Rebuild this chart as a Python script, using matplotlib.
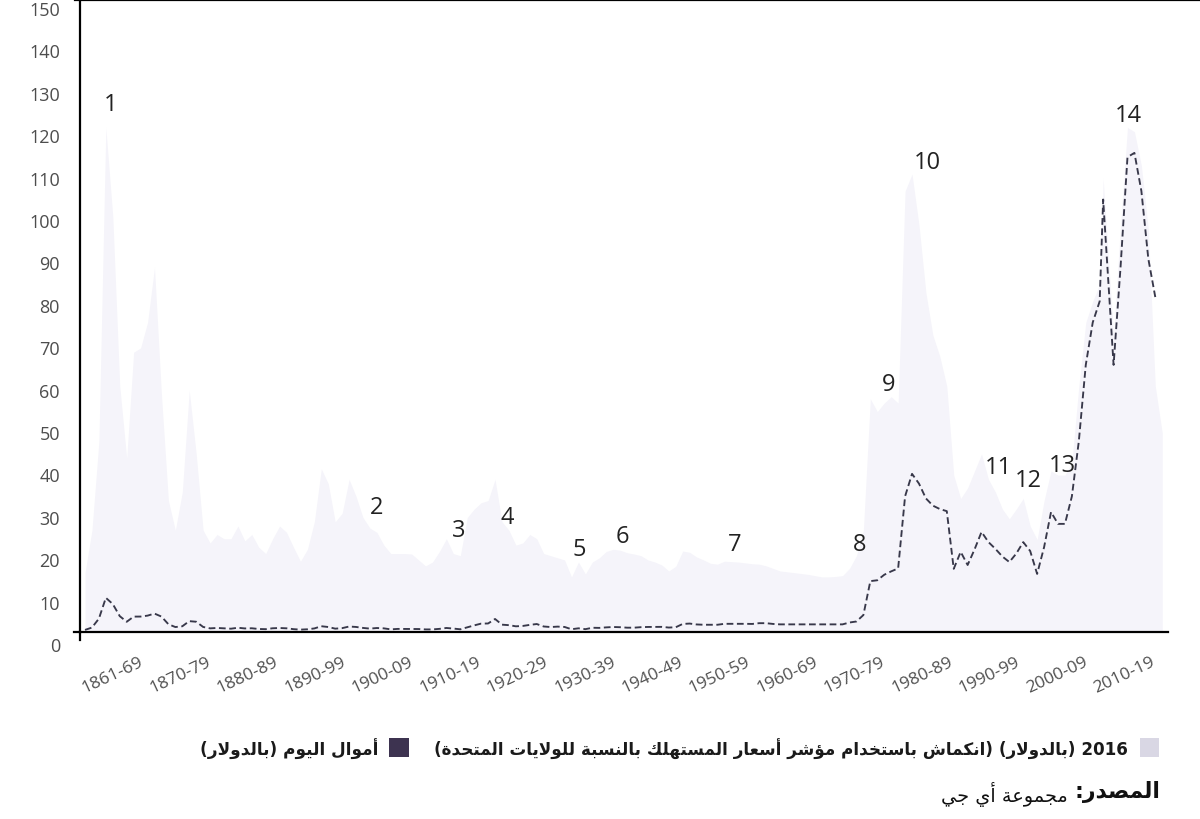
import re
import matplotlib
matplotlib.use("Agg")
import matplotlib.pyplot as plt
from matplotlib.lines import Line2D
from matplotlib.patches import Rectangle
from matplotlib.transforms import ScaledTranslation, blended_transform_factory

# ---------------- data ----------------
# inflation adjusted price (2016 dollars)
real_years = list(range(1861, 2008)) + [2007.5, 2009, 2010, 2011, 2012, 2013, 2014, 2015, 2016]
real_values = [
    14, 24, 45, 119, 98, 58, 41, 66, 67, 73,            # 1861-1870
    86, 56, 31, 24, 33, 57, 42, 24, 21, 23,             # 1871-1880
    22, 22, 25, 21.5, 23, 20, 18.5, 22, 25, 23.5,       # 1881-1890
    20, 16.7, 19.5, 26, 38.5, 35, 26, 28, 36, 32,       # 1891-1900
    27, 24.5, 23.5, 20.5, 18.5, 18.5, 18.5, 18.4, 17, 15.6,  # 1901-1910
    16.5, 19, 22, 18.5, 18, 27, 29, 30.5, 31, 36,       # 1911-1920
    26, 24, 20.5, 21, 23, 22, 18.5, 18, 17.5, 17,       # 1921-1930
    13, 16.5, 13.7, 16.5, 17.5, 19, 19.5, 19.3, 18.7, 18.4,  # 1931-1940
    18, 17, 16.5, 15.8, 14.4, 15.5, 19.1, 18.8, 17.7, 17,    # 1941-1950
    16.2, 16, 16.7, 16.6, 16.5, 16.3, 16.1, 16, 15.6, 15,    # 1951-1960
    14.4, 14.2, 14, 13.8, 13.6, 13.3, 13, 13, 13.1, 13.3,    # 1961-1970
    15, 18, 24, 55, 52, 54, 55.5, 54, 104, 108,         # 1971-1980
    96, 80, 70, 65, 58, 37, 31.5, 34, 38, 42,           # 1981-1990
    36, 33, 29, 26.7, 29, 31.5, 25, 21.8, 31, 38,       # 1991-2000
    37, 37, 40, 58, 73, 78, 82,                         # 2001-2007
    107, 70, 96, 119, 118, 110, 95, 58, 47,             # 2007.5-2016
]

# money of the day (nominal dollars)
nominal_years = list(range(1861, 2008)) + [2007.5, 2009, 2010, 2011, 2012, 2013, 2014, 2015]
nominal_values = [
    0.49, 1.05, 3.15, 8.06, 6.59, 3.74, 2.41, 3.63, 3.64, 3.86,   # 1861-1870
    4.34, 3.64, 1.83, 1.17, 1.35, 2.56, 2.42, 1.19, 0.86, 0.95,   # 1871-1880
    0.86, 0.78, 1.00, 0.84, 0.88, 0.71, 0.67, 0.88, 0.94, 0.87,   # 1881-1890
    0.67, 0.56, 0.64, 0.84, 1.36, 1.18, 0.79, 0.91, 1.29, 1.19,   # 1891-1900
    0.96, 0.80, 0.94, 0.86, 0.62, 0.73, 0.72, 0.72, 0.70, 0.61,   # 1901-1910
    0.61, 0.74, 0.95, 0.81, 0.64, 1.10, 1.56, 1.98, 2.01, 3.07,   # 1911-1920
    1.73, 1.61, 1.34, 1.43, 1.68, 1.88, 1.30, 1.17, 1.27, 1.19,   # 1921-1930
    0.65, 0.87, 0.67, 1.00, 0.97, 1.09, 1.18, 1.13, 1.02, 1.02,   # 1931-1940
    1.14, 1.19, 1.20, 1.21, 1.05, 1.12, 1.90, 1.99, 1.78, 1.71,   # 1941-1950
    1.71, 1.71, 1.93, 1.93, 1.93, 1.93, 1.90, 2.08, 2.08, 1.90,   # 1951-1960
    1.80, 1.80, 1.80, 1.80, 1.80, 1.80, 1.80, 1.80, 1.80, 1.80,   # 1961-1970
    2.24, 2.48, 4.0, 12.0, 12.2, 13.5, 14.3, 15.0, 32.0, 37.3,    # 1971-1980
    35.0, 31.5, 29.8, 29.0, 28.5, 14.9, 18.9, 15.8, 19.5, 23.6,   # 1981-1990
    21.2, 19.6, 17.8, 16.5, 18.5, 21.2, 19.1, 13.7, 20.0, 28.3,   # 1991-2000
    25.5, 25.5, 32.0, 45.0, 63.0, 73.0, 78.0,                     # 2001-2007
    102.0, 63.0, 86.0, 112.0, 113.0, 104.0, 88.0, 79.0,           # 2007.5-2015
]

y_ticks = list(range(0, 151, 10))
decade_labels = ["1861-69", "1870-79", "1880-89", "1890-99", "1900-09", "1910-19",
                 "1920-29", "1930-39", "1940-49", "1950-59", "1960-69", "1970-79",
                 "1980-89", "1990-99", "2000-09", "2010-19"]

event_labels = [str(i) for i in range(1, 15)]
event_x = [1864.7, 1902.9, 1914.7, 1921.7, 1932.1, 1938.3, 1954.5, 1972.4,
           1976.7, 1982.2, 1992.5, 1996.7, 2001.6, 2011.2]
event_y = [124.5, 29.5, 24.0, 27.1, 19.6, 22.6, 20.8, 20.8,
           58.5, 110.8, 38.9, 35.8, 39.4, 121.9]

legend_real = "2016 (بالدولار) (انكماش باستخدام مؤشر أسعار المستهلك بالنسبة للولايات المتحدة)"
legend_nominal = "أموال اليوم (بالدولار)"
source_label = "المصدر:"
source_name = "مجموعة أي جي"

# ---------------- Arabic shaping helper ----------------
FORMS = {
    '\u0621': ('\uFE80', None, None, None),
    '\u0622': ('\uFE81', '\uFE82', None, None),
    '\u0623': ('\uFE83', '\uFE84', None, None),
    '\u0624': ('\uFE85', '\uFE86', None, None),
    '\u0625': ('\uFE87', '\uFE88', None, None),
    '\u0626': ('\uFE89', '\uFE8A', '\uFE8B', '\uFE8C'),
    '\u0627': ('\uFE8D', '\uFE8E', None, None),
    '\u0628': ('\uFE8F', '\uFE90', '\uFE91', '\uFE92'),
    '\u0629': ('\uFE93', '\uFE94', None, None),
    '\u062A': ('\uFE95', '\uFE96', '\uFE97', '\uFE98'),
    '\u062B': ('\uFE99', '\uFE9A', '\uFE9B', '\uFE9C'),
    '\u062C': ('\uFE9D', '\uFE9E', '\uFE9F', '\uFEA0'),
    '\u062D': ('\uFEA1', '\uFEA2', '\uFEA3', '\uFEA4'),
    '\u062E': ('\uFEA5', '\uFEA6', '\uFEA7', '\uFEA8'),
    '\u062F': ('\uFEA9', '\uFEAA', None, None),
    '\u0630': ('\uFEAB', '\uFEAC', None, None),
    '\u0631': ('\uFEAD', '\uFEAE', None, None),
    '\u0632': ('\uFEAF', '\uFEB0', None, None),
    '\u0633': ('\uFEB1', '\uFEB2', '\uFEB3', '\uFEB4'),
    '\u0634': ('\uFEB5', '\uFEB6', '\uFEB7', '\uFEB8'),
    '\u0635': ('\uFEB9', '\uFEBA', '\uFEBB', '\uFEBC'),
    '\u0636': ('\uFEBD', '\uFEBE', '\uFEBF', '\uFEC0'),
    '\u0637': ('\uFEC1', '\uFEC2', '\uFEC3', '\uFEC4'),
    '\u0638': ('\uFEC5', '\uFEC6', '\uFEC7', '\uFEC8'),
    '\u0639': ('\uFEC9', '\uFECA', '\uFECB', '\uFECC'),
    '\u063A': ('\uFECD', '\uFECE', '\uFECF', '\uFED0'),
    '\u0641': ('\uFED1', '\uFED2', '\uFED3', '\uFED4'),
    '\u0642': ('\uFED5', '\uFED6', '\uFED7', '\uFED8'),
    '\u0643': ('\uFED9', '\uFEDA', '\uFEDB', '\uFEDC'),
    '\u0644': ('\uFEDD', '\uFEDE', '\uFEDF', '\uFEE0'),
    '\u0645': ('\uFEE1', '\uFEE2', '\uFEE3', '\uFEE4'),
    '\u0646': ('\uFEE5', '\uFEE6', '\uFEE7', '\uFEE8'),
    '\u0647': ('\uFEE9', '\uFEEA', '\uFEEB', '\uFEEC'),
    '\u0648': ('\uFEED', '\uFEEE', None, None),
    '\u0649': ('\uFEEF', '\uFEF0', None, None),
    '\u064A': ('\uFEF1', '\uFEF2', '\uFEF3', '\uFEF4'),
    '\u0640': ('\u0640', '\u0640', '\u0640', '\u0640'),
}
LAM_ALEF = {'\u0622': ('\uFEF5', '\uFEF6'), '\u0623': ('\uFEF7', '\uFEF8'),
            '\u0625': ('\uFEF9', '\uFEFA'), '\u0627': ('\uFEFB', '\uFEFC')}


def shape_arabic(s):
    toks = []
    i = 0
    while i < len(s):
        c = s[i]
        if c == '\u0644' and i + 1 < len(s) and s[i + 1] in LAM_ALEF:
            toks.append(('LA', s[i + 1]))
            i += 2
        else:
            toks.append(('C', c))
            i += 1

    def joins_next(t):
        if t is None or t[0] == 'LA':
            return False
        f = FORMS.get(t[1])
        return f is not None and f[2] is not None

    def joins_prev(t):
        if t is None:
            return False
        if t[0] == 'LA':
            return True
        f = FORMS.get(t[1])
        return f is not None and f[1] is not None

    out = []
    for k, t in enumerate(toks):
        prev = toks[k - 1] if k > 0 else None
        nxt = toks[k + 1] if k + 1 < len(toks) else None
        pj = joins_prev(t) and joins_next(prev)
        nj = joins_next(t) and joins_prev(nxt)
        if t[0] == 'LA':
            out.append(LAM_ALEF[t[1]][1 if pj else 0])
        elif t[1] in FORMS:
            f = FORMS[t[1]]
            if pj and nj:
                out.append(f[3])
            elif pj:
                out.append(f[1])
            elif nj:
                out.append(f[2])
            else:
                out.append(f[0])
        else:
            out.append(t[1])
    shaped = ''.join(out)
    runs = re.findall(r'[0-9]+|[^0-9]+', shaped)
    mirror = {'(': ')', ')': '(', '[': ']', ']': '['}
    vis = []
    for r in reversed(runs):
        if r[0].isdigit():
            vis.append(r)
        else:
            vis.append(''.join(mirror.get(c, c) for c in reversed(r)))
    return ''.join(vis)


# ---------------- figure ----------------
W, H = 1200, 820
fig = plt.figure(figsize=(W / 100, H / 100), dpi=100)
fig.patch.set_facecolor('white')

AX_L, AX_R, AX_B = 80, 1168, 633
PX_PER_UNIT = 4.24
ax_h = 150 * PX_PER_UNIT
ax = fig.add_axes([AX_L / W, (H - AX_B) / H, (AX_R - AX_L) / W, ax_h / H])
ax.set_xlim(1860.28, 2016.83)
ax.set_ylim(0, 150)
ax.set_facecolor('none')

ax.fill_between(real_years, real_values, 0, color='#f5f4fa', lw=0, zorder=1)
ax.plot(nominal_years, nominal_values, color='#38384a', lw=1.35,
        dashes=(3.6, 1.9), zorder=3)

for side in ['top', 'right']:
    ax.spines[side].set_visible(False)
for side in ['left', 'bottom']:
    ax.spines[side].set_linewidth(1.6)
    ax.spines[side].set_color('black')
ax.set_xticks([])
ax.set_yticks([])

num_font = ['Open Sans', 'DejaVu Sans']

# y tick labels (drawn slightly below their value line, as in the original)
ylab_tr = blended_transform_factory(ax.transAxes, ax.transData) + \
    ScaledTranslation(-20 / 100, -14 / 100, fig.dpi_scale_trans)
for v in y_ticks:
    ax.text(0, v, str(v), transform=ylab_tr, ha='right', va='center',
            fontsize=13, color='#4d4d4d', family=num_font, clip_on=False)

# x decade labels
xlab_tr = ax.transData + ScaledTranslation(0, -43 / 100, fig.dpi_scale_trans)
first_center, spacing = 1865.0, 9.705
for i, lab in enumerate(decade_labels):
    ax.text(first_center + i * spacing, 0, lab, transform=xlab_tr,
            rotation=25, rotation_mode='anchor', ha='center', va='center',
            fontsize=12.5, color='#505050', family=num_font, clip_on=False)

# event numbers
for lab, x, y in zip(event_labels, event_x, event_y):
    ax.text(x, y, lab, ha='center', va='center', fontsize=17,
            color='#222222', family=num_font, zorder=5)

# frame lines (top rule and small axis overhangs)
def px_line(x0, y0, x1, y1, lw=1.6):
    fig.add_artist(Line2D([x0 / W, x1 / W], [1 - y0 / H, 1 - y1 / H],
                          transform=fig.transFigure, color='black', lw=lw))

px_line(75, 1, 1200, 1, lw=1.6)
px_line(74, AX_B, AX_L, AX_B)
px_line(AX_L, AX_B, AX_L, 641)

# legend swatches
fig.add_artist(Rectangle((1140 / W, 1 - 758 / H), 19 / W, 19 / H,
                         transform=fig.transFigure, color='#d9d7e4', lw=0))
fig.add_artist(Rectangle((389 / W, 1 - 758 / H), 20 / W, 19 / H,
                         transform=fig.transFigure, color='#3d3350', lw=0))

ar_font = ['DejaVu Sans']
texts = []
t1 = fig.text(1128 / W, 1 - 749 / H, shape_arabic(legend_real), ha='right',
              va='center', fontsize=12, fontweight='bold', color='#1a1a1a',
              family=ar_font)
texts.append((t1, 693))
t2 = fig.text(378 / W, 1 - 749 / H, shape_arabic(legend_nominal), ha='right',
              va='center', fontsize=12, fontweight='bold', color='#1a1a1a',
              family=ar_font)
texts.append((t2, 178))
t3 = fig.text(1160 / W, 1 - 792 / H, shape_arabic(source_label), ha='right',
              va='center', fontsize=16, fontweight='bold', color='#111111',
              family=ar_font)
texts.append((t3, 86))
t4 = fig.text(1068 / W, 1 - 795 / H, shape_arabic(source_name), ha='right',
              va='center', fontsize=12, color='#111111', family=ar_font)
texts.append((t4, 126))

fig.canvas.draw()
renderer = fig.canvas.get_renderer()
for t, target in texts:
    w = t.get_window_extent(renderer).width
    if w > 0:
        t.set_fontsize(t.get_fontsize() * target / w)

fig.savefig('out.png', dpi=100, facecolor='white')
